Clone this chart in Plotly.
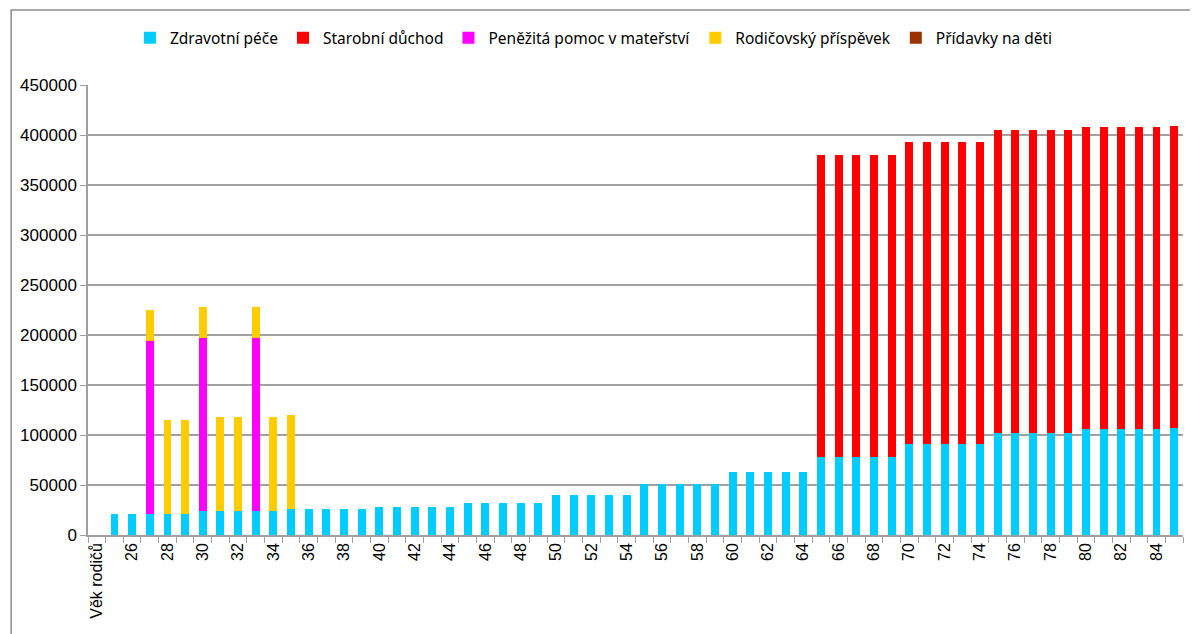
import plotly.graph_objects as go

# ── data ──────────────────────────────────────────────────────────────────────
ages = ["Věk rodičů"] + [str(a) for a in range(25, 86)]

# per-age blocks, 25..85
zdravotni = ([21500] * 5 + [24500] * 5 + [25800] + [26500] * 4 + [27800] * 5
             + [32000] * 5 + [40000] * 5 + [51000] * 5 + [63000] * 5
             + [78000] * 5 + [91000] * 5 + [102500] * 5 + [106500] * 5 + [107500])
starobni = ([0] * 40 + [302000] * 5 + [302000] * 5 + [302500] * 5
            + [301500] * 5 + [301500])
penezita = [0] * 61
for age in (27, 30, 33):
    penezita[age - 25] = 172500
rodicovsky = [0] * 61
for age, val in {27: 31000, 28: 94000, 29: 94000, 30: 31000, 31: 94000,
                 32: 94000, 33: 31000, 34: 94000, 35: 94000}.items():
    rodicovsky[age - 25] = val
pridavky = [0] * 61

series = [
    ("Zdravotní péče", zdravotni, "#00CCFF"),
    ("Starobní důchod", starobni, "#FF0000"),
    ("Peněžitá pomoc v mateřství", penezita, "#FF00FF"),
    ("Rodičovský příspěvek", rodicovsky, "#FFCC00"),
    ("Přídavky na děti", pridavky, "#993300"),
]

_GRID = "#A0A0A0"
_FONT = "Liberation Sans, Arial, sans-serif"

fig = go.Figure()
for name, vals, color in series:
    fig.add_trace(go.Bar(
        x=ages,
        y=[None] + vals,
        name=name,
        marker=dict(color=color, line=dict(width=0)),
    ))

# every category gets a boundary tick, only every other one a label
ticktext = [a if (i % 2 == 0) else "" for i, a in enumerate(ages)]

# page body has an 8px margin, so the figure is sized/offset for that
fig.update_layout(
    width=1190,
    height=626,
    barmode="stack",
    bargap=0.55,
    paper_bgcolor="white",
    plot_bgcolor="white",
    margin=dict(l=78, r=15, t=77, b=99),
    font=dict(family=_FONT, color="#000000", size=16),
    legend=dict(
        orientation="h",
        x=0.462, xanchor="center",
        y=1.104, yanchor="middle",
        font=dict(family="Noto Sans, sans-serif", size=15.5),
        traceorder="normal",
        itemwidth=30,
        bgcolor="rgba(0,0,0,0)",
    ),
    showlegend=True,
    shapes=[dict(
        type="rect", xref="paper", yref="paper",
        x0=-0.0702, x1=1.2, y0=-0.4, y1=1.1667,
        line=dict(color="#8C8C8C", width=1.5),
        layer="below",
    )],
)

fig.update_xaxes(
    type="category",
    tickmode="array",
    tickvals=ages,
    ticktext=ticktext,
    tickangle=-90,
    tickson="boundaries",
    ticks="outside",
    ticklen=6,
    tickcolor=_GRID,
    showline=True,
    linecolor=_GRID,
    linewidth=1.5,
    showgrid=False,
    tickfont=dict(size=16),
)
fig.update_yaxes(
    range=[0, 450000],
    dtick=50000,
    tickformat="d",
    ticks="outside",
    ticklen=6,
    tickcolor=_GRID,
    showline=True,
    linecolor=_GRID,
    linewidth=1.5,
    showgrid=True,
    gridcolor=_GRID,
    gridwidth=1.5,
    zeroline=False,
    tickfont=dict(size=17),
)

fig.write_html("out.html")
